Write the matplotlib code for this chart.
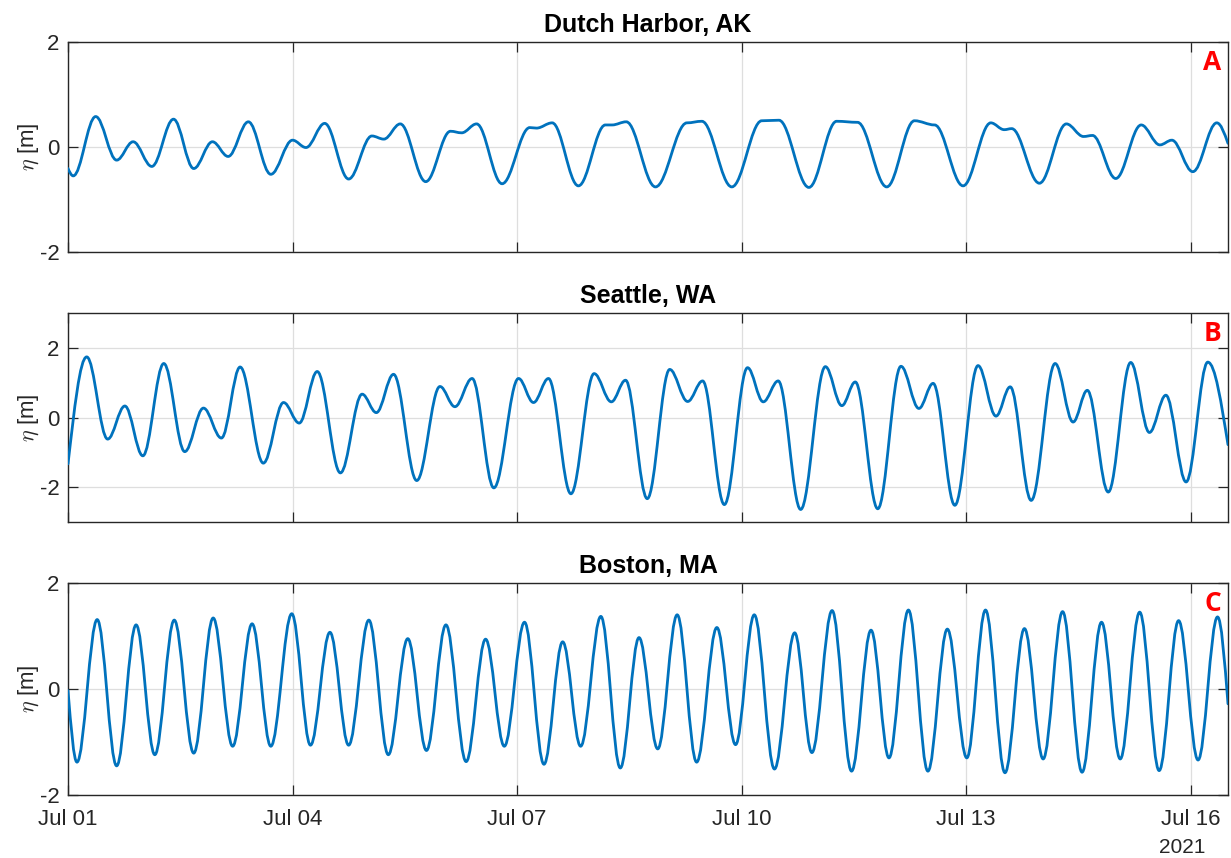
import datetime

import matplotlib
matplotlib.use("Agg")
import matplotlib.dates as mdates
import matplotlib.pyplot as plt
import numpy as np
from matplotlib.patches import PathPatch
from matplotlib.path import Path

# high / low water: days after 2021-07-01 00:00, metres
dh_t = [0.00, 0.07, 0.37, 0.65, 0.87, 1.12, 1.41, 1.68, 1.93, 2.14, 2.41, 2.71,
        3.00, 3.18, 3.43, 3.75, 4.06, 4.22, 4.44, 4.78, 5.11, 5.26, 5.46, 5.80,
        6.17, 6.26, 6.47, 6.82, 7.18, 7.27, 7.46, 7.85, 8.27, 8.47, 8.87, 9.27,
        9.50, 9.90, 10.27, 10.55, 10.94, 11.31, 11.58, 11.96, 12.33, 12.51,
        12.61, 12.98, 13.34, 13.57, 13.69, 14.00, 14.34, 14.59, 14.75, 15.03,
        15.35, 15.50]
dh_v = [-0.41, -0.55, 0.58, -0.25, 0.10, -0.37, 0.53, -0.41, 0.10, -0.18, 0.48,
        -0.52, 0.13, -0.01, 0.45, -0.61, 0.21, 0.15, 0.44, -0.66, 0.30, 0.27,
        0.44, -0.70, 0.37, 0.36, 0.46, -0.74, 0.42, 0.42, 0.48, -0.76, 0.46,
        0.49, -0.76, 0.50, 0.51, -0.77, 0.49, 0.47, -0.76, 0.50, 0.42, -0.74,
        0.46, 0.33, 0.35, -0.69, 0.44, 0.20, 0.22, -0.60, 0.42, 0.04, 0.13,
        -0.47, 0.46, 0.07]

st_t = [0.00, 0.25, 0.53, 0.76, 1.00, 1.28, 1.56, 1.81, 2.05, 2.30, 2.61, 2.88,
        3.09, 3.33, 3.64, 3.93, 4.12, 4.35, 4.66, 4.97, 5.17, 5.40, 5.69, 6.02,
        6.22, 6.42, 6.72, 7.03, 7.26, 7.45, 7.74, 8.04, 8.28, 8.48, 8.77, 9.08,
        9.29, 9.49, 9.79, 10.12, 10.34, 10.52, 10.82, 11.13, 11.37, 11.56,
        11.85, 12.16, 12.40, 12.59, 12.87, 13.19, 13.43, 13.62, 13.90, 14.20,
        14.45, 14.67, 14.94, 15.23, 15.50]
st_v = [-1.33, 1.74, -0.62, 0.33, -1.10, 1.55, -0.98, 0.27, -0.59, 1.45, -1.31,
        0.43, -0.16, 1.32, -1.59, 0.67, 0.14, 1.24, -1.81, 0.89, 0.31, 1.12,
        -2.02, 1.12, 0.43, 1.12, -2.19, 1.26, 0.45, 1.07, -2.33, 1.38, 0.46,
        1.05, -2.50, 1.43, 0.45, 1.05, -2.64, 1.46, 0.34, 1.02, -2.62, 1.47,
        0.26, 0.98, -2.52, 1.49, 0.04, 0.88, -2.38, 1.55, -0.13, 0.78, -2.14,
        1.58, -0.43, 0.64, -1.85, 1.59, -0.78]

bo_t = [0.00, 0.12, 0.39, 0.65, 0.91, 1.16, 1.42, 1.68, 1.94, 2.20, 2.46, 2.71,
        2.99, 3.24, 3.50, 3.75, 4.02, 4.28, 4.54, 4.79, 5.05, 5.32, 5.58, 5.83,
        6.10, 6.36, 6.61, 6.85, 7.12, 7.38, 7.63, 7.88, 8.14, 8.40, 8.67, 8.92,
        9.17, 9.44, 9.71, 9.94, 10.21, 10.47, 10.73, 10.97, 11.23, 11.49,
        11.75, 12.01, 12.26, 12.52, 12.78, 13.03, 13.29, 13.55, 13.81, 14.06,
        14.32, 14.58, 14.84, 15.10, 15.36, 15.50]
bo_v = [-0.03, -1.38, 1.31, -1.45, 1.21, -1.24, 1.30, -1.21, 1.34, -1.08, 1.23,
        -1.08, 1.42, -1.06, 1.07, -1.06, 1.30, -1.24, 0.95, -1.16, 1.21, -1.37,
        0.94, -1.08, 1.26, -1.42, 0.89, -1.08, 1.37, -1.49, 0.97, -1.13, 1.40,
        -1.38, 1.16, -1.05, 1.40, -1.51, 1.06, -1.20, 1.48, -1.55, 1.11, -1.30,
        1.49, -1.55, 1.13, -1.30, 1.49, -1.58, 1.14, -1.32, 1.46, -1.57, 1.26,
        -1.32, 1.45, -1.54, 1.29, -1.34, 1.36, -0.28]

stations = ["Dutch Harbor, AK", "Seattle, WA", "Boston, MA"]
panel_tags = ["A", "B", "C"]
ylims = [(-2, 2), (-3, 3), (-2, 2)]
yticks = [-2, 0, 2]
tick_days = [1, 4, 7, 10, 13, 16]
x_end_day = 15.5

BLUE = "#0072BD"
DARK = "#262626"
K = 0.3634  # handle length giving a half-cosine shape between turning points

plt.rcParams["font.family"] = ["Liberation Sans", "DejaVu Sans"]
plt.rcParams["mathtext.fontset"] = "cm"
plt.rcParams["axes.unicode_minus"] = False

base = mdates.date2num(datetime.datetime(2021, 7, 1))


def tide_path(t, v):
    # smooth curve through the turning points, flat at each high/low
    x = base + np.asarray(t, dtype=float)
    y = np.asarray(v, dtype=float)
    n = len(x)
    verts = [(x[0], y[0])]
    codes = [Path.MOVETO]
    for i in range(n - 1):
        dt = x[i + 1] - x[i]
        dv = y[i + 1] - y[i]
        if i == 0:
            c1 = (x[i] + dt / 3, y[i] + dv / 2)
        else:
            c1 = (x[i] + K * dt, y[i])
        if i == n - 2:
            c2 = (x[i + 1] - dt / 3, y[i + 1] - dv / 2)
        else:
            c2 = (x[i + 1] - K * dt, y[i + 1])
        verts += [c1, c2, (x[i + 1], y[i + 1])]
        codes += [Path.CURVE4] * 3
    return Path(verts, codes)


fig = plt.figure(figsize=(12.31, 8.58), dpi=100)

left = 68 / 1231
width = 1160 / 1231
# (top, bottom) of each axes in pixels
boxes = [(42, 252), (313, 522), (583, 795)]

series = [(dh_t, dh_v), (st_t, st_v), (bo_t, bo_v)]

for i, (t, v) in enumerate(series):
    top, bot = boxes[i]
    ax = fig.add_axes([left, 1 - bot / 858, width, (bot - top) / 858])

    patch = PathPatch(tide_path(t, v), facecolor="none", edgecolor=BLUE,
                      linewidth=2.0, capstyle="round", joinstyle="round",
                      zorder=3)
    ax.add_patch(patch)

    ax.xaxis_date()
    ax.set_xlim(base, base + x_end_day)
    ax.set_ylim(*ylims[i])
    ax.set_yticks(yticks)
    ax.xaxis.set_major_locator(mdates.DayLocator(bymonthday=tick_days))
    ax.xaxis.set_major_formatter(mdates.DateFormatter("%b %d"))

    ax.grid(True, color="#dedede", linewidth=0.9)
    ax.set_axisbelow(True)
    for sp in ax.spines.values():
        sp.set_color(DARK)
        sp.set_linewidth(1.0)
    ax.tick_params(direction="in", top=True, right=True, length=7,
                   width=0.9, color=DARK, labelcolor=DARK, labelsize=16)
    ax.tick_params(axis="y", pad=6)
    ax.tick_params(axis="x", pad=10)
    if i < 2:
        ax.tick_params(labelbottom=False)

    ax.set_title(stations[i], fontsize=18, fontweight="bold", pad=7)
    ax.set_ylabel(r"$\eta$ [m]", fontsize=16, color=DARK)
    ax.yaxis.set_label_coords(-0.023, 0.5)

    ax.text(0.994, 0.965, panel_tags[i], transform=ax.transAxes,
            ha="right", va="top", color="red", fontsize=19,
            fontweight="bold", family=["Open Sans", "DejaVu Sans"])

    if i == 2:
        ax.annotate("2021", xy=(base + tick_days[-1] - 1, 0),
                    xycoords=("data", "axes fraction"),
                    xytext=(-6, -38), textcoords="offset points",
                    ha="center", va="center", fontsize=15, color=DARK)

fig.savefig("out.png", dpi=100)
